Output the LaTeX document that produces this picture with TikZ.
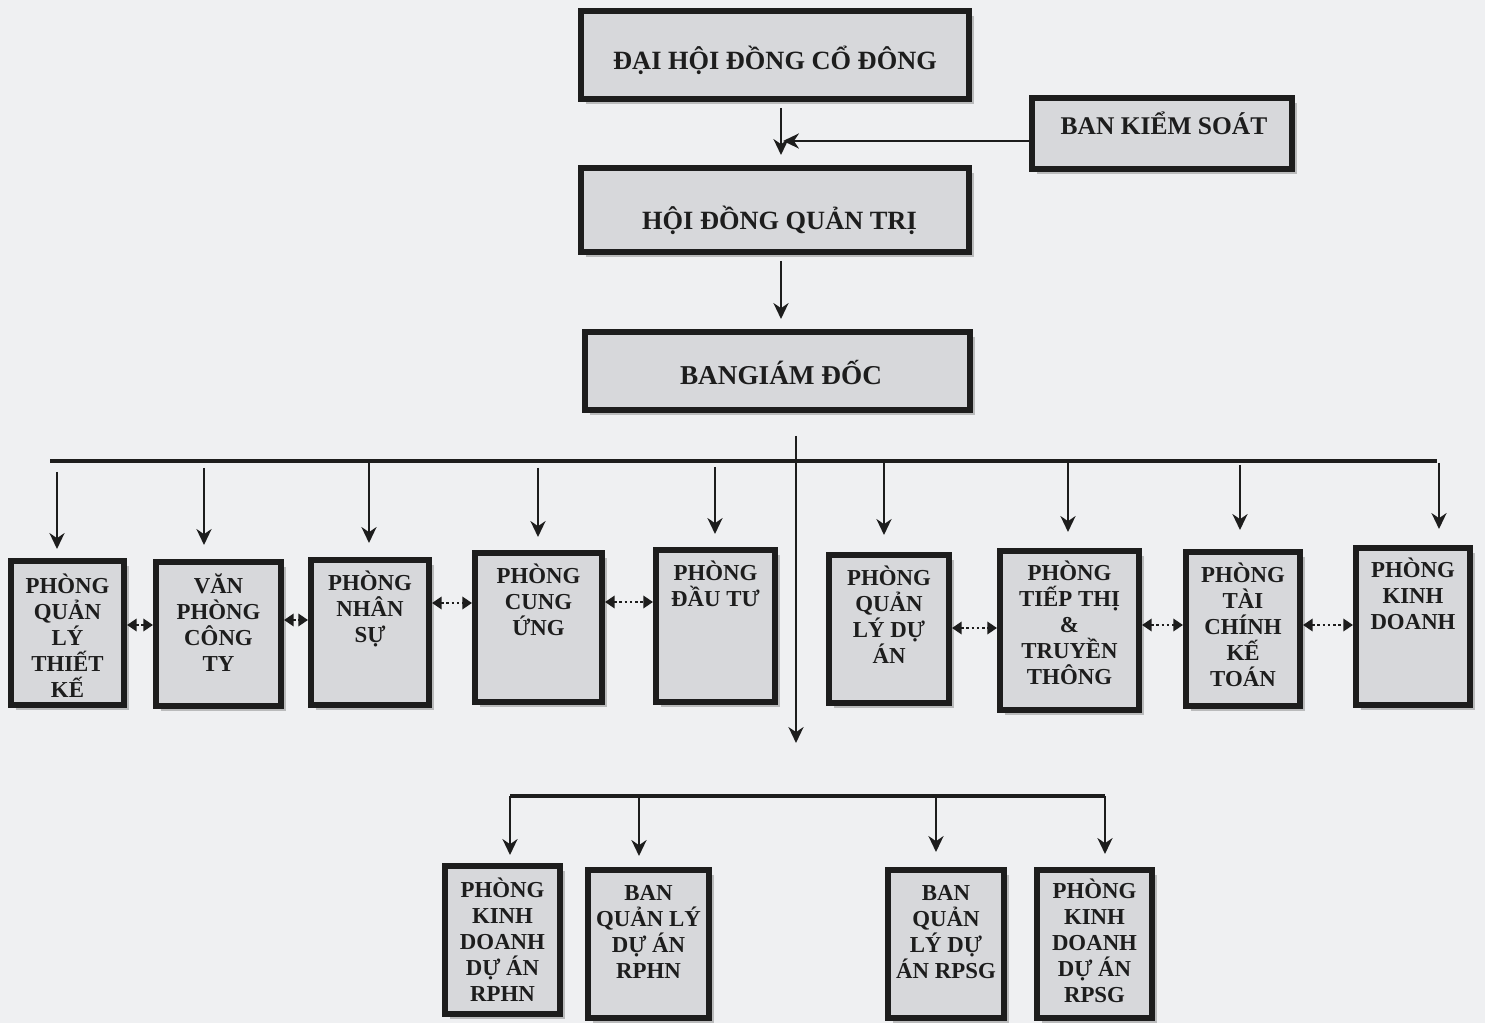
\documentclass[tikz,border=0pt]{standalone}
\usepackage{fontspec}
\setmainfont{Liberation Serif}
\usetikzlibrary{arrows.meta,shadows,calc,fit}
\definecolor{bg}{HTML}{EFF0F2}
\definecolor{boxfill}{HTML}{D7D8DB}
\definecolor{ink}{HTML}{1D1D1D}
\newcommand\mystrut{\rule{0pt}{12pt}}
\begin{document}
\begin{tikzpicture}[x=0.02cm,y=-0.02cm,
 box/.style={draw=ink,line width=3.4pt,fill=boxfill,inner sep=0pt,
   drop shadow={shadow xshift=3pt,shadow yshift=-3pt,opacity=0.22,fill=black}},
 big/.style={font=\fontsize{15}{17}\selectfont\bfseries,text=ink,inner sep=0pt,anchor=base},
 small/.style={font=\fontsize{13}{14.8}\selectfont\bfseries,text=ink,inner sep=0pt,align=center,anchor=north},
 arr/.style={draw=ink,line width=1.6pt,-{Stealth[length=9pt,width=8.5pt,inset=2.8pt]}},
 bus/.style={draw=ink,line width=2pt},
 dotarr/.style={draw=ink,line width=1.4pt,dash pattern=on 1.4pt off 1.6pt,
   {Triangle[length=5.5pt,width=7pt]}-{Triangle[length=5.5pt,width=7pt]}}
]
\useasboundingbox (0,0) rectangle (1485,1023);
\fill[bg] (0,0) rectangle (1485,1023);

% top level boxes
\node[box,fit={(581,11) (969,99)}] (dh) {};
\node[box,fit={(581,168) (969,252)}] (hd) {};
\node[box,fit={(585,332) (970,410)}] (bgd) {};
\node[box,fit={(1032,98) (1292,169)}] (bks) {};

\node[big] (dht) at (775,70) {ĐẠI HỘI ĐỒNG CỔ ĐÔNG};
\node[big] (hdt) at (779.5,230) {HỘI ĐỒNG QUẢN TRỊ};
\node[big,font=\fontsize{15.5}{17}\selectfont\bfseries] (bgt) at (781,385) {BANGIÁM ĐỐC};
\node[big,font=\fontsize{14.5}{17}\selectfont\bfseries] (bkt) at (1164,135) {BAN KIỂM SOÁT};

% department row
\node[box,fit={(11,561) (124,705)}] (b1) {};
\node[box,fit={(156,562) (281,706)}] (b2) {};
\node[box,fit={(311,560) (429,705)}] (b3) {};
\node[box,fit={(475,553) (602,702)}] (b4) {};
\node[box,fit={(656,550) (775,702)}] (b5) {};
\node[box,fit={(829,555) (949,703)}] (b6) {};
\node[box,fit={(1000,551) (1139,710)}] (b7) {};
\node[box,fit={(1186,552) (1300,706)}] (b8) {};
\node[box,fit={(1356,548) (1470,705)}] (b9) {};

\node[small] (b1t) at (67.5,572) {\mystrut PHÒNG\\QUẢN\\LÝ\\THIẾT\\KẾ};
\node[small] (b2t) at (218.5,572) {\mystrut VĂN\\PHÒNG\\CÔNG\\TY};
\node[small] (b3t) at (370,569) {\mystrut PHÒNG\\NHÂN\\SỰ};
\node[small] (b4t) at (538.5,562) {\mystrut PHÒNG\\CUNG\\ỨNG};
\node[small] (b5t) at (715.5,559) {\mystrut PHÒNG\\ĐẦU TƯ};
\node[small] (b6t) at (889,564) {\mystrut PHÒNG\\QUẢN\\LÝ DỰ\\ÁN};
\node[small] (b7t) at (1069.5,559) {\mystrut PHÒNG\\TIẾP THỊ\\\&\\TRUYỀN\\THÔNG};
\node[small] (b8t) at (1243,561) {\mystrut PHÒNG\\TÀI\\CHÍNH\\KẾ\\TOÁN};
\node[small] (b9t) at (1413,556) {\mystrut PHÒNG\\KINH\\DOANH};

% bottom row
\node[box,fit={(445,866) (560,1014)}] (c1) {};
\node[box,fit={(588,870) (709,1018)}] (c2) {};
\node[box,fit={(888,870) (1004,1018)}] (c3) {};
\node[box,fit={(1037,870) (1152,1018)}] (c4) {};

\node[small] (c1t) at (502.5,876) {\mystrut PHÒNG\\KINH\\DOANH\\DỰ ÁN\\RPHN};
\node[small] (c2t) at (648.5,879) {\mystrut BAN\\QUẢN LÝ\\DỰ ÁN\\RPHN};
\node[small] (c3t) at (946,879) {\mystrut BAN\\QUẢN\\LÝ DỰ\\ÁN RPSG};
\node[small] (c4t) at (1094.5,877) {\mystrut PHÒNG\\KINH\\DOANH\\DỰ ÁN\\RPSG};

% spine
\coordinate (sp) at (781,0);
\coordinate (j) at (783,141);
\draw[arr] ($(dh.south -| sp)+(0,6)$) -- ($(hd.north -| sp)+(0,-10)$);
\draw[arr] (bks.west |- j) -- (j);
\draw[arr] ($(hd.south -| sp)+(0,6)$) -- ($(bgd.north -| sp)+(0,-10)$);

% main vertical from Ban Giam Doc
\coordinate (vx) at (796,0);
\coordinate (vend) at (796,743);
\draw[arr] ($(bgd.south -| vx)+(0,23)$) -- (vend);

% top bus
\coordinate (busL) at (50,461);
\coordinate (busR) at (1437,461);
\draw[bus] (busL) -- (busR);

\coordinate (k1) at (57,472);
\coordinate (k2) at (204,468);
\coordinate (k3) at (369,461);
\coordinate (k4) at (538,468);
\coordinate (k5) at (715,467);
\coordinate (k6) at (884,461);
\coordinate (k7) at (1068,461);
\coordinate (k8) at (1240,465);
\coordinate (k9) at (1439,463);
\draw[arr] (k1) -- ($(k1 |- b1.north)+(0,-9)$);
\draw[arr] (k2) -- ($(k2 |- b2.north)+(0,-14)$);
\draw[arr] (k3) -- ($(k3 |- b3.north)+(0,-14)$);
\draw[arr] (k4) -- ($(k4 |- b4.north)+(0,-13)$);
\draw[arr] (k5) -- ($(k5 |- b5.north)+(0,-13)$);
\draw[arr] (k6) -- ($(k6 |- b6.north)+(0,-17)$);
\draw[arr] (k7) -- ($(k7 |- b7.north)+(0,-16)$);
\draw[arr] (k8) -- ($(k8 |- b8.north)+(0,-19)$);
\draw[arr] (k9) -- ($(k9 |- b9.north)+(0,-16)$);

% dotted links
\draw[dotarr] (b1.east |- 0,625) -- (b2.west |- 0,625);
\draw[dotarr] (b2.east |- 0,620) -- (b3.west |- 0,620);
\draw[dotarr] (b3.east |- 0,603) -- (b4.west |- 0,603);
\draw[dotarr] (b4.east |- 0,602) -- (b5.west |- 0,602);
\draw[dotarr] (b6.east |- 0,628) -- (b7.west |- 0,628);
\draw[dotarr] (b7.east |- 0,625) -- (b8.west |- 0,625);
\draw[dotarr] (b8.east |- 0,625) -- (b9.west |- 0,625);

% bottom bus
\coordinate (m1) at (510,796);
\coordinate (m2) at (639,796);
\coordinate (m3) at (936,796);
\coordinate (m4) at (1105,796);
\draw[bus] (m1) -- (m4);
\draw[arr] (m1) -- ($(m1 |- c1.north)+(0,-8)$);
\draw[arr] (m2) -- ($(m2 |- c2.north)+(0,-11)$);
\draw[arr] (m3) -- ($(m3 |- c3.north)+(0,-15)$);
\draw[arr] (m4) -- ($(m4 |- c4.north)+(0,-13)$);
\end{tikzpicture}
\end{document}
